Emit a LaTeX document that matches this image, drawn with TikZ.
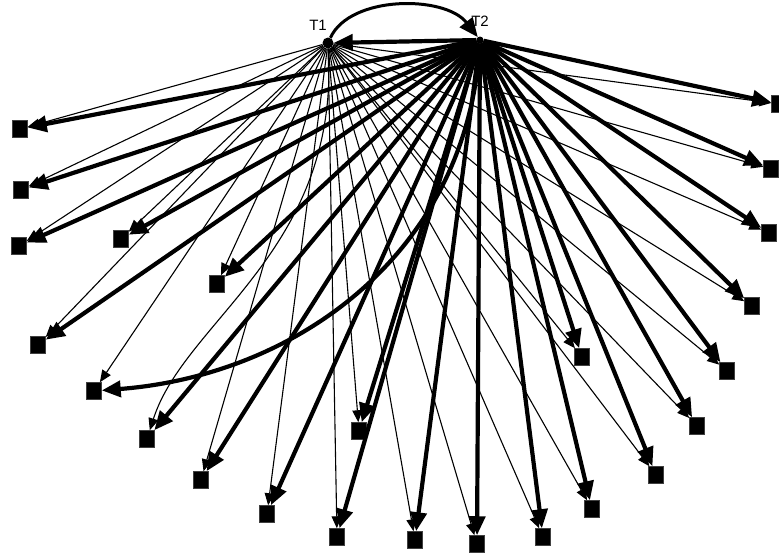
\documentclass[tikz,border=0pt]{standalone}
\usepackage{fontspec}
\setmainfont{Liberation Sans}
\usetikzlibrary{arrows.meta}
\tikzset{
  sq/.style={rectangle, fill=black, draw=black!75, line width=0.5pt,
             minimum width=15pt, minimum height=17pt, inner sep=0pt},
  hub/.style={circle, fill=black, inner sep=0pt, minimum size=#1},
  lbl/.style={font=\fontsize{15}{15}\selectfont, inner sep=0pt},
  lite/.style={-{Triangle[length=12pt,width=10pt]}, line width=1.1pt},
  heavy/.style={-{Triangle[length=19pt,width=16pt]}, line width=4.2pt},
}

\begin{document}
\begin{tikzpicture}[x=1pt,y=-1pt]
  \useasboundingbox (0,0) rectangle (779,555);
  \clip (0,0) rectangle (779,555);
  \node[hub=11pt] (t1) at (328,43) {};
  \node[hub=7pt] (t2) at (480,40) {};
  \node[lbl] (t1l) at (318,25) {T1};
  \node[lbl] (t2l) at (480,21) {T2};
  % terminals
  \foreach \n/\x/\y in {1/20/129, 2/21/190, 3/19/246, 4/121/239, 5/217/284,
      6/38/345, 7/94/391, 8/147/439, 9/201/480, 10/267/514, 11/337/537,
      12/359/431, 13/415/540, 14/477/544, 15/543/537, 16/592/509,
      17/582/357, 18/656/475, 19/697/426, 20/727/371, 21/752/306,
      22/779/104, 23/771/169, 24/769/233}
    \node[sq] (s\n) at (\x,\y) {};
  % T1 -> terminals
  \foreach \n in {1,...,7,9,10,...,24}
    \draw[lite] (t1) -- (s\n);
  \draw[lite] (t1) .. controls (340,250) and (185,320) .. (s8);
  % T2 -> terminals
  \foreach \n in {1,...,6,8,9,...,24}
    \draw[heavy] (t2) -- (s\n);
  \draw[heavy] (t2) .. controls (468,250) and (300,375) .. (s7);
  % T1 <-> T2
  \draw[heavy] (t2) -- (t1);
  \draw[heavy, line width=3pt] (t1) .. controls (350,-5) and (445,-5) .. (t2);
\end{tikzpicture}
\end{document}
